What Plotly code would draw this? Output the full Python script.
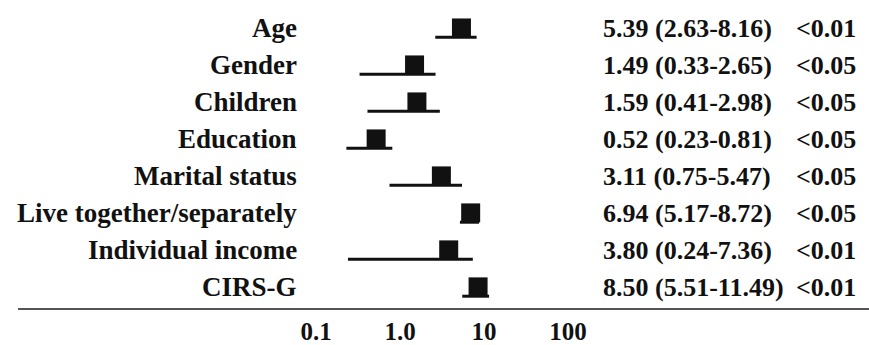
import plotly.graph_objects as go

# ---- data ----
variables = ["Age", "Gender", "Children", "Education", "Marital status",
             "Live together/separately", "Individual income", "CIRS-G"]
estimate = [5.39, 1.49, 1.59, 0.52, 3.11, 6.94, 3.80, 8.50]
ci_low = [2.63, 0.33, 0.41, 0.23, 0.75, 5.17, 0.24, 5.51]
ci_high = [8.16, 2.65, 2.98, 0.81, 5.47, 8.72, 7.36, 11.49]
p_values = ["<0.01", "<0.05", "<0.05", "<0.05", "<0.05", "<0.05", "<0.01", "<0.01"]
tick_vals = [0.1, 1, 10, 100]
tick_text = ["0.1", "1.0", "10", "100"]

# ---- layout constants ----
W, H = 869, 345
ML, MR, MT, MB = 18, 0, 0, 31
PW = W - ML - MR
PH = H - MT - MB
row_px0, row_step = 38, 37.71          # pixel of first row line, spacing
px_per_dec, one_px = 84, 400            # log scale: pixels per decade, pixel of 1.0
FONT = "Times New Roman"
INK = "#111111"

r0 = -(one_px - ML) / px_per_dec
r1 = r0 + PW / px_per_dec
y_top = -row_px0 / row_step
y_bot = (PH - row_px0) / row_step
rows = list(range(len(variables)))

fig = go.Figure()

# CI lines
xs, ys = [], []
for i in rows:
    xs += [ci_low[i], ci_high[i], None]
    ys += [i, i, None]
fig.add_trace(go.Scatter(x=xs, y=ys, mode="lines",
                         line=dict(color=INK, width=3), hoverinfo="skip",
                         showlegend=False))

# square markers sitting on top of the CI line
sq = 19
fig.add_trace(go.Scatter(x=estimate, y=[i - (sq / 2) / row_step for i in rows],
                         mode="markers",
                         marker=dict(symbol="square", size=sq, color=INK,
                                     line=dict(width=0)),
                         showlegend=False))

def px2paper(px):
    return (px - ML) / PW

def styled(s):
    return "<span style='color:" + INK + "'><b>" + s + "</b></span>"

ann = []
for i in rows:
    ann.append(dict(x=px2paper(299), y=i, xref="paper", yref="y",
                    text=styled(variables[i]), showarrow=False, xanchor="right",
                    yanchor="middle", yshift=9,
                    font=dict(family=FONT, size=27)))
    ann.append(dict(x=px2paper(601), y=i, xref="paper", yref="y",
                    text=styled(f"{estimate[i]:.2f} ({ci_low[i]:.2f}-{ci_high[i]:.2f})"),
                    showarrow=False, xanchor="left", yanchor="middle", yshift=9,
                    font=dict(family=FONT, size=26)))
    ann.append(dict(x=px2paper(858), y=i, xref="paper", yref="y",
                    text=styled(p_values[i].replace("<", "&lt;")),
                    showarrow=False, xanchor="right", yanchor="middle", yshift=9,
                    font=dict(family=FONT, size=26)))

fig.update_layout(
    width=W, height=H,
    margin=dict(l=ML, r=MR, t=MT, b=MB, pad=0),
    paper_bgcolor="white", plot_bgcolor="white",
    annotations=ann,
    xaxis=dict(type="log", range=[r0, r1], tickvals=tick_vals,
               ticktext=[styled(t) for t in tick_text],
               showline=True, linecolor="#555555", linewidth=2, ticks="",
               showgrid=False, zeroline=False,
               tickfont=dict(family=FONT, size=25)),
    yaxis=dict(range=[y_bot, y_top], showticklabels=False, showgrid=False,
               zeroline=False, showline=False, ticks=""),
)

fig.write_html("out.html")
